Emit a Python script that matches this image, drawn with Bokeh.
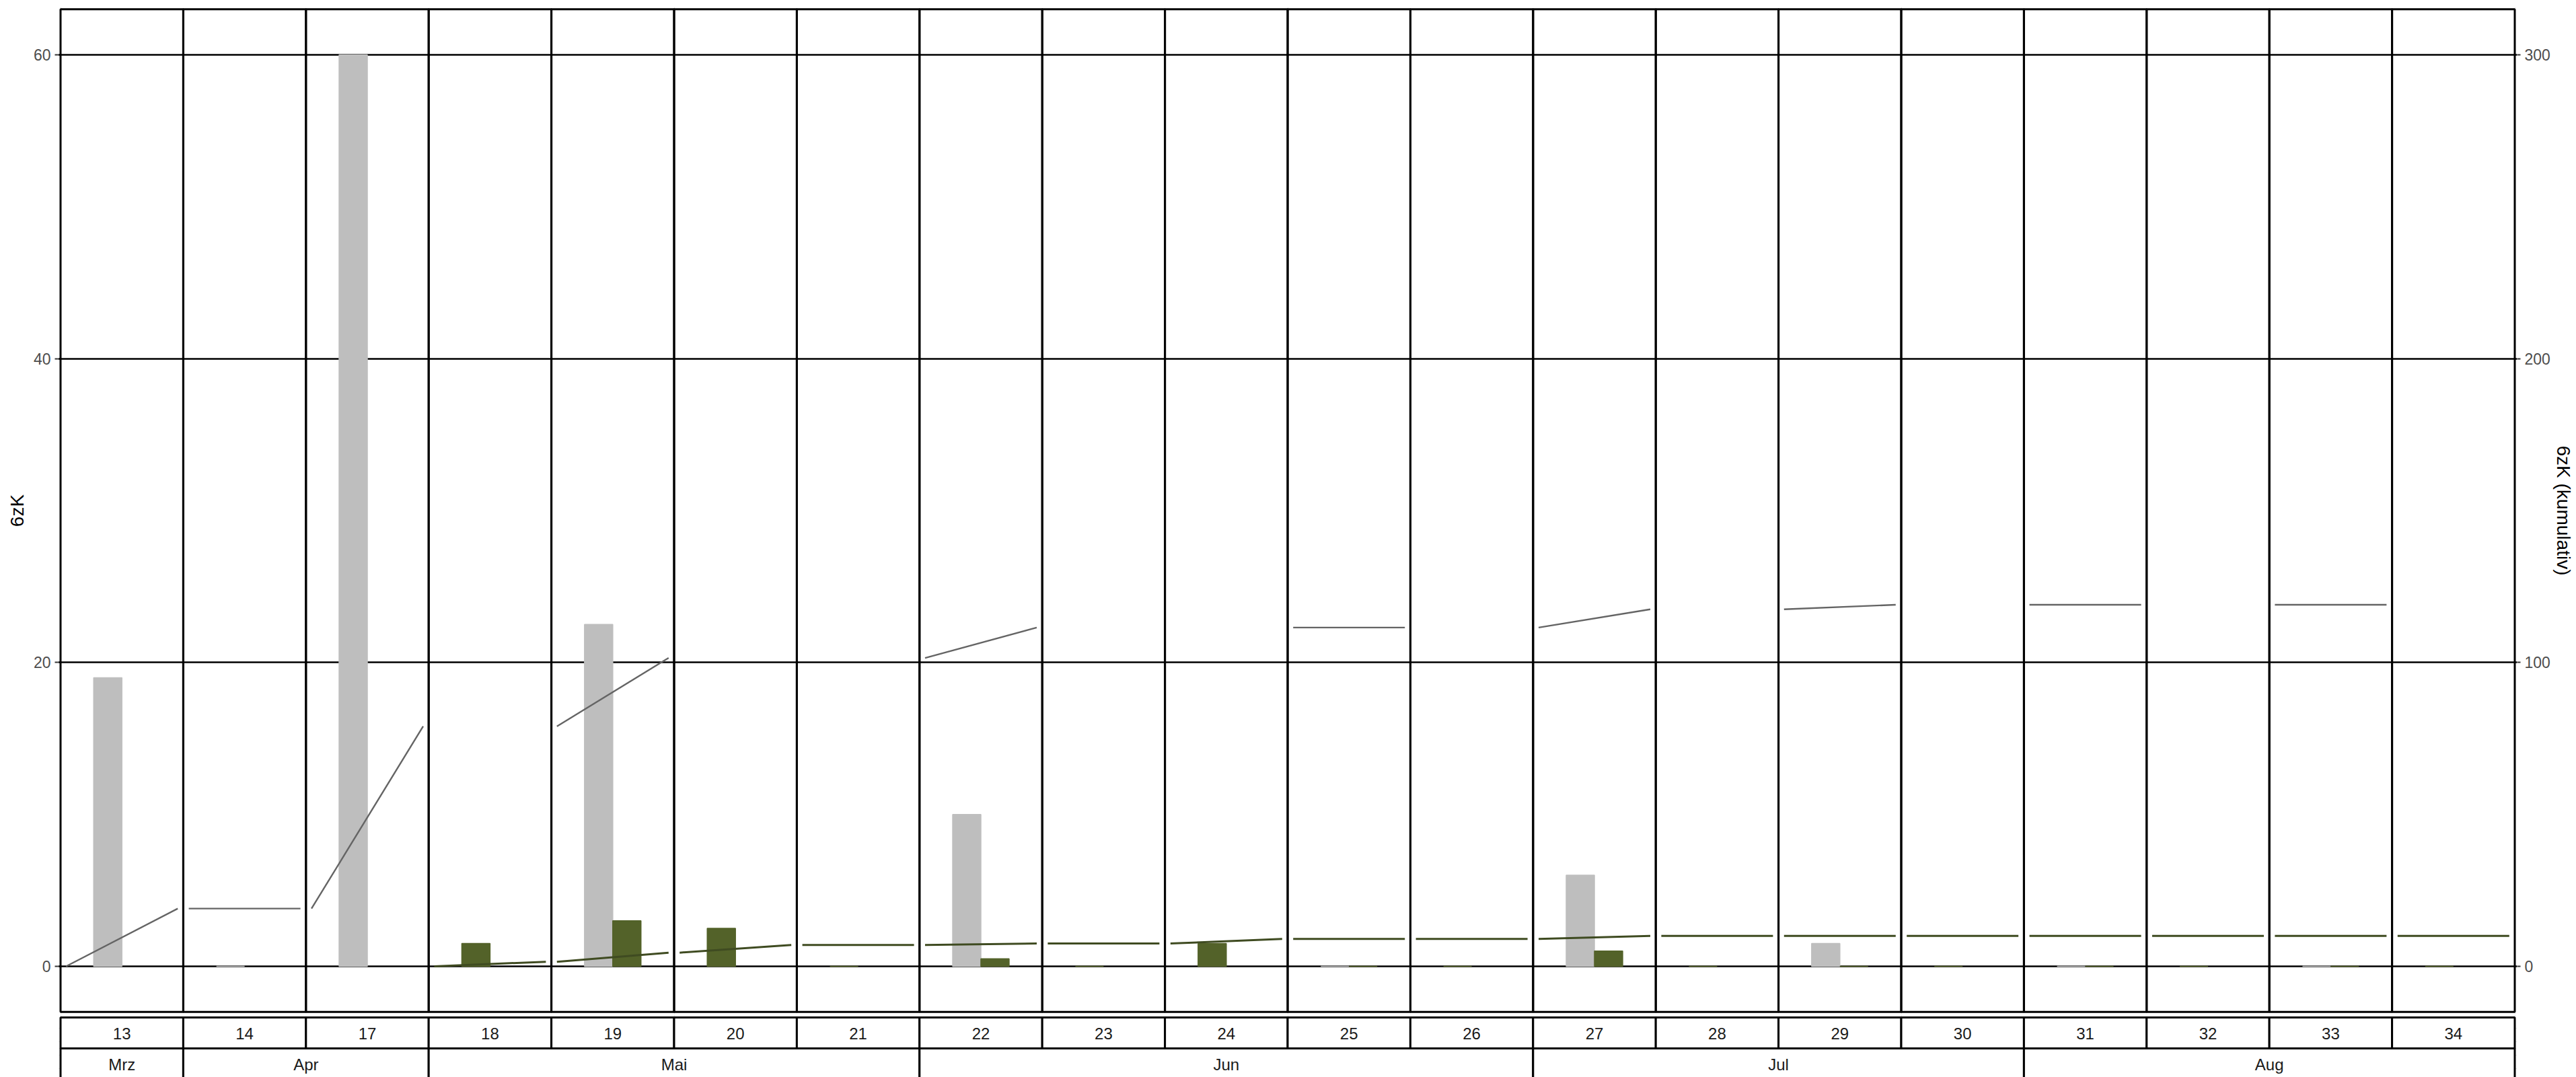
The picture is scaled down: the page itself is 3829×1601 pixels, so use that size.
import numpy as np
from bokeh.plotting import figure
from bokeh.layouts import column
from bokeh.models import Range1d, LinearAxis, FixedTicker
from bokeh.core.properties import value
from bokeh.embed import file_html
from bokeh.resources import INLINE

# ---------------- data ----------------
weeks = [13, 14, 17, 18, 19, 20, 21, 22, 23, 24, 25, 26, 27, 28, 29, 30, 31, 32, 33, 34]
months = ["Mrz", "Apr", "Apr", "Mai", "Mai", "Mai", "Mai", "Jun", "Jun", "Jun",
          "Jun", "Jun", "Jul", "Jul", "Jul", "Jul", "Aug", "Aug", "Aug", "Aug"]
grey_vals = [19, 0, 60, None, 22.5, None, None, 10, None, None,
             0, None, 6, None, 1.5, None, 0, None, 0, None]
green_vals = [None, None, None, 1.5, 3, 2.5, 0, 0.5, 0, 1.5,
              0, 0, 1, 0, 0, 0, 0, 0, 0, 0]
left_ticks = [0, 20, 40, 60]
right_ticks = [0, 100, 200, 300]
y_title_left = "6zK"
y_title_right = "6zK (kumulativ)"

# ---------------- styles / layout ----------------
FONT = "Liberation Sans"
GREY_BAR = "#bebebe"
GREEN_BAR = "#536229"
GREY_LINE = "#646464"
GREEN_LINE = "#3f4b21"

W = 3829
H_MAIN = 1508
H_STRIP = 1601 - H_MAIN
FR_L, FR_R = 86, 3741          # frame edges (page px)
FR_T, FR_B = 10, 1507
PAN_L, PAN_R = 89.5, 3737.5    # panel edges (page px)
PAN_T, PAN_B = 13.3, 1503.7
n = len(weeks)
PPF = (PAN_R - PAN_L) / n      # px per facet
PPU = (PAN_B - PAN_T) / 66.0   # px per left unit
X0 = 0 - (PAN_L - FR_L) / PPF
X1 = n + (FR_R - PAN_R) / PPF
Y1 = 63 + (PAN_T - FR_T) / PPU
Y0 = -3 - (FR_B - PAN_B) / PPU
SCALE = 5.0

p = figure(width=W, height=H_MAIN, output_backend="svg", toolbar_location=None,
           x_range=Range1d(X0, X1), y_range=Range1d(Y0, Y1),
           x_axis_location=None, y_axis_location="left",
           min_border_left=FR_L, min_border_right=W - FR_R,
           min_border_top=FR_T, min_border_bottom=H_MAIN - FR_B)
p.outline_line_color = None
p.extra_y_ranges = {"cum": Range1d(Y0 * SCALE, Y1 * SCALE)}


def style_axis(ax, title, ticks, label_standoff, title_standoff):
    ax.ticker = FixedTicker(ticks=ticks)
    ax.minor_tick_line_color = None
    ax.axis_line_color = None
    ax.major_tick_line_color = "#333333"
    ax.major_tick_line_width = 2
    ax.major_tick_out = 5
    ax.major_tick_in = 0
    ax.major_label_text_font = FONT
    ax.major_label_text_font_size = "23px"
    ax.major_label_text_color = "#4d4d4d"
    ax.major_label_standoff = label_standoff
    ax.axis_label = title
    ax.axis_label_text_font = FONT
    ax.axis_label_text_font_size = "28px"
    ax.axis_label_text_font_style = "normal"
    ax.axis_label_text_color = "black"
    ax.axis_label_standoff = title_standoff


style_axis(p.yaxis[0], y_title_left, left_ticks, 6, 6)
right_axis = LinearAxis(y_range_name="cum")
style_axis(right_axis, y_title_right, right_ticks, 6, 1)
p.add_layout(right_axis, "right")

p.ygrid.ticker = FixedTicker(ticks=left_ticks)
p.ygrid.grid_line_color = "black"
p.ygrid.grid_line_width = 2.5

# ---------------- bars (dodge; a lone bar takes the left slot) ----------------
SLOT_W = 0.23
LEFT_C, RIGHT_C = 0.27 + SLOT_W / 2, 0.50 + SLOT_W / 2
gx, gy, ex, ey = [], [], [], []
for i in range(n):
    g, e = grey_vals[i], green_vals[i]
    if g is not None and e is not None:
        gx.append(i + LEFT_C); gy.append(g)
        ex.append(i + RIGHT_C); ey.append(e)
    elif g is not None:
        gx.append(i + LEFT_C); gy.append(g)
    elif e is not None:
        ex.append(i + LEFT_C); ey.append(e)

p.vbar(x=gx, top=gy, bottom=0, width=SLOT_W, fill_color=GREY_BAR,
       line_color=GREY_BAR, line_width=1.5)
p.vbar(x=ex, top=ey, bottom=0, width=SLOT_W, fill_color=GREEN_BAR,
       line_color=GREEN_BAR, line_width=1.5)

# ---------------- cumulative lines, one segment per facet ----------------
def cum_segments(vals):
    x0, x1, y0, y1 = [], [], [], []
    total = 0.0
    for i, v in enumerate(vals):
        if v is None:
            continue
        prev = total
        total += v
        x0.append(i + 0.045); x1.append(i + 0.955)
        y0.append(prev); y1.append(total)
    return x0, x1, y0, y1

sx0, sx1, sy0, sy1 = cum_segments(grey_vals)
p.segment(x0=sx0, x1=sx1, y0=sy0, y1=sy1, y_range_name="cum",
          line_color=GREY_LINE, line_width=2.4)
sx0, sx1, sy0, sy1 = cum_segments(green_vals)
p.segment(x0=sx0, x1=sx1, y0=sy0, y1=sy1, y_range_name="cum",
          line_color=GREEN_LINE, line_width=3)

# ---------------- panel borders ----------------
idx = np.arange(n)
p.quad(left=idx, right=idx + 1, bottom=-3, top=63, fill_color=None,
       line_color="black", line_width=3)

# ---------------- strips (separate figure, y in px from its top) ----------------
s = figure(width=W, height=H_STRIP, output_backend="svg", toolbar_location=None,
           x_range=p.x_range, y_range=Range1d(H_STRIP, 0),
           x_axis_location=None, y_axis_location=None,
           min_border_left=FR_L, min_border_right=W - FR_R,
           min_border_top=0, min_border_bottom=0)
s.outline_line_color = None

WK_T, WK_B = 1512 - H_MAIN, 1558 - H_MAIN
MO_T, MO_B = WK_B, 1608 - H_MAIN
s.quad(left=idx, right=idx + 1, top=WK_T, bottom=WK_B, fill_color="white",
       line_color="black", line_width=3)
s.text(x=idx + 0.5, y=[1535.5 - H_MAIN] * n, text=[str(w) for w in weeks],
       text_font=value(FONT), text_font_size=value("24px"), text_color="#1a1a1a",
       text_align="center", text_baseline="middle")

m_left, m_right, m_names = [], [], []
for i, m in enumerate(months):
    if m_names and m_names[-1] == m:
        m_right[-1] = i + 1
    else:
        m_names.append(m); m_left.append(i); m_right.append(i + 1)
m_left = np.array(m_left); m_right = np.array(m_right)
s.quad(left=m_left, right=m_right, top=MO_T, bottom=MO_B, fill_color="white",
       line_color="black", line_width=3)
s.text(x=(m_left + m_right) / 2, y=[1582 - H_MAIN] * len(m_names), text=m_names,
       text_font=value(FONT), text_font_size=value("24px"), text_color="#1a1a1a",
       text_align="center", text_baseline="middle")

layout = column(p, s, spacing=0)
open("out.html", "w").write(file_html(layout, INLINE))
